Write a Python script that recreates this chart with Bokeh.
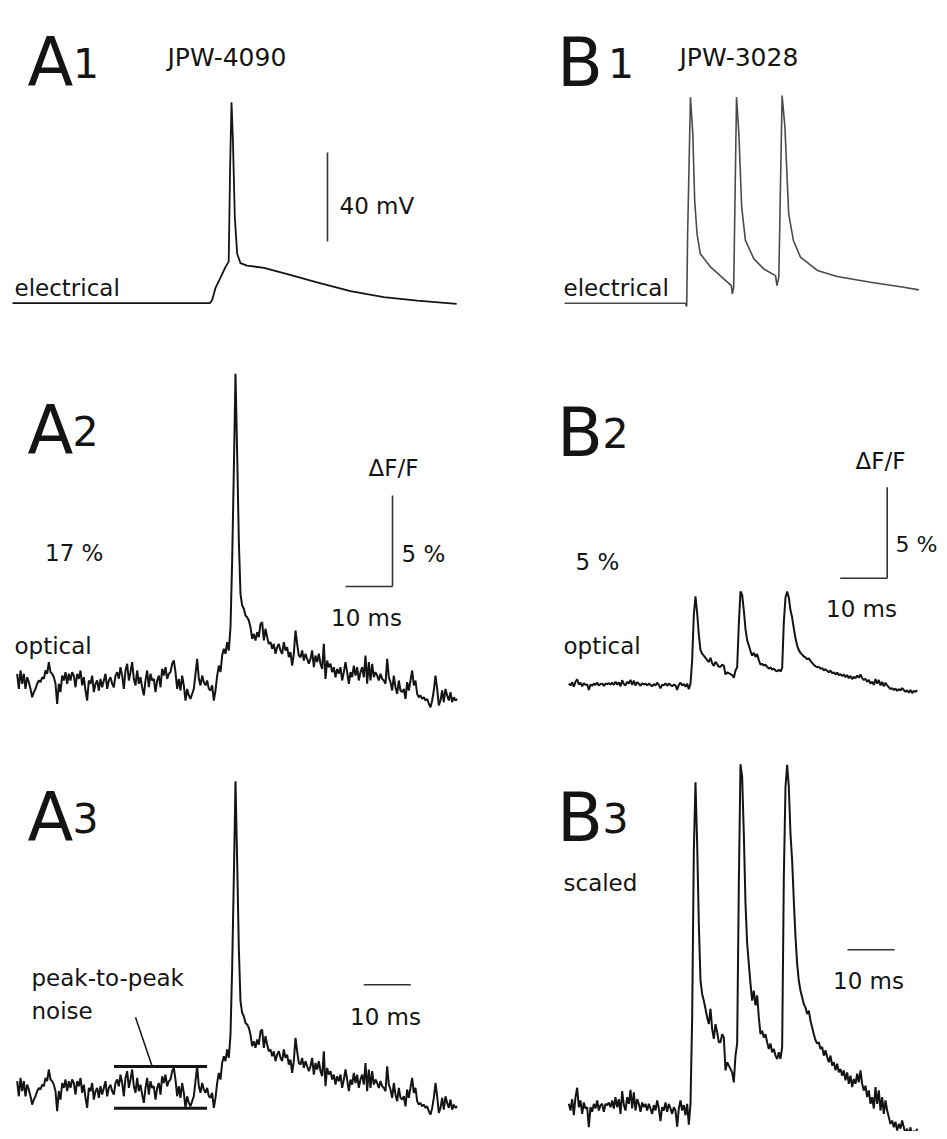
import numpy as np
from bokeh.plotting import figure
from bokeh.models import Label, Range1d
from bokeh.layouts import column, row
from bokeh.embed import file_html
from bokeh.resources import INLINE

# ---------------- data ----------------
# A1: electrical recording, JPW-4090 (time in ms, membrane potential in mV)
A1_T = [0.0, 42.0, 42.5, 43.2, 44.3, 45.3, 46.0, 46.3, 46.6, 46.9, 47.3, 47.8,
        48.5, 49.9, 53.5, 57.7, 64.8, 71.9, 79.0, 86.1, 94.5]
A1_V = [-70.0, -70.0, -68.4, -63.1, -58.3, -53.8, -51.3, -8.9, 20.3, 3.1, -31.3,
        -47.8, -52.0, -53.1, -54.1, -56.5, -60.6, -64.6, -67.3, -68.8, -70.3]

# B1: electrical recording, JPW-3028 (time in ms, mV)
B1_T = [0.0, 25.7, 26.0, 26.2, 26.8, 27.3, 27.7, 28.2, 28.9, 31.1, 33.9, 35.5,
        35.7, 36.0, 36.6, 37.1, 37.7, 38.5, 40.3, 42.4, 44.9, 45.2, 45.6, 46.3,
        46.9, 47.7, 48.7, 50.2, 53.8, 58.0, 65.1, 72.2, 75.4]
B1_V = [-70.0, -70.0, -71.5, -38.8, 22.6, 6.1, -23.9, -38.8, -47.8, -53.8, -59.1,
        -62.1, -65.8, -62.8, 22.6, 6.1, -26.9, -41.8, -50.1, -54.6, -57.6, -62.1,
        -58.3, 23.3, 9.1, -29.9, -41.8, -49.3, -55.3, -58.0, -60.6, -62.8, -64.0]

# optical recordings, sampled every OPT_DT ms (dF/F in %)
OPT_DT = 0.3546
A_OPT_T0 = 0.993
A_OPT = [
    0.37, -0.46, 0.55, -0.18, 0.37, -0.46, 0.18, -0.09, -0.46, -0.92,
    -0.64, -0.46, -0.18, 0.00, -0.09, 0.18, 0.09, 0.55, 0.37, 1.01,
    0.46, 0.37, 0.18, -0.18, -1.28, -0.18, -0.64, 0.27, 0.00, 0.46,
    -0.18, 0.37, 0.00, 0.46, 0.27, -0.37, 0.37, 0.09, 0.55, -0.27,
    0.18, -0.55, -1.10, 0.00, -0.18, 0.27, -0.64, -0.18, 0.00, -0.55,
    0.09, -0.37, 0.00, 0.37, -0.46, 0.00, 0.18, -0.18, -0.37, 0.27,
    0.46, 0.09, 0.73, 0.27, -0.46, 0.55, 0.92, 0.00, 0.46, 1.01,
    0.09, -0.27, 0.55, -0.18, 0.18, -0.37, -0.82, 0.00, 0.55, -0.37,
    0.37, 0.00, 0.09, -0.64, 0.00, 0.27, -0.37, 0.64, 0.27, 0.73,
    0.09, 0.37,
    0.46, 0.92, 1.10, 0.46, -0.46, 0.09, -0.55, 0.27, -0.27, -1.10,
    -0.46, -0.82, -1.01, -0.73, -0.46, 0.37, 1.19, 0.09, -0.27, 0.27,
    -0.09, -0.27, 0.00, -0.46, -0.55, -0.27, -1.10, -0.55, 0.27, 0.82,
    0.46, 1.37, 1.74, 1.47, 2.11, 1.65, 2.93, 6.59, 11.54, 16.85,
    12.45, 7.69, 4.76, 4.12, 3.94, 3.57, 3.48, 3.30, 2.93, 2.29,
    2.56, 2.20, 2.66, 2.38, 3.11, 3.21, 2.20, 2.84, 2.38, 2.01,
    2.11, 1.74, 2.01, 1.47, 1.83, 2.01, 1.65, 1.47, 2.11, 1.65,
    1.83, 1.28, 1.56, 0.82, 1.47, 2.75, 2.01, 1.37, 1.28, 1.65,
    1.10, 1.47, 1.19, 0.92,
    1.19, 1.65, 0.73, 1.37, 1.01, 1.47, 0.92, 0.64, 2.01, 0.09,
    1.10, 0.73, 0.92, 0.46, 0.73, 0.18, 0.64, 0.37, 0.73, 0.00,
    0.46, 1.01, 0.46, -0.18, 0.46, 0.18, 0.82, 0.27, 0.73, 0.00,
    0.46, 0.73, 0.18, 1.37, -0.18, 1.01, 0.00, 0.92, 0.18, 0.46,
    0.27, 0.00, 0.37, 0.09, 0.00, -0.18, 1.19, 0.18, -0.09, -0.55,
    0.27, -0.37, -0.73, 0.00, -0.55, -0.64, -0.46, -1.01, -0.09, -0.55,
    0.00, 0.55, -0.27, 0.00, -0.73, -0.92, -0.82, -1.01, -0.92, -1.10,
    -1.01, -1.28, -1.47, -1.10, -0.55, 0.27, -0.46, -1.37, -1.10, -0.55,
    -1.19, -0.46, -0.82, -1.10, -0.64, -1.19, -0.92, -1.10, -1.01,
]

B_OPT_T0 = 0.922
B_OPT = [
    0.01, -0.09, 0.08, -0.16, 0.11, 0.25, -0.04, 0.06, -0.14, 0.03,
    -0.06, -0.04, -0.34, -0.04, -0.11, 0.01, -0.06, 0.06, -0.09, -0.01,
    0.01, -0.11, 0.01, -0.01, 0.03, -0.04, 0.06, -0.06, 0.11, -0.04,
    0.08, -0.14, 0.20, -0.01, -0.09, 0.11, 0.01, 0.22, -0.06, 0.18,
    -0.09, 0.08, 0.01, -0.11, 0.03, -0.04, 0.01, -0.09, 0.01, -0.06,
    -0.14, -0.01, -0.09, 0.06, -0.06, -0.25, -0.04, -0.09, 0.03, -0.11,
    0.01, -0.06, -0.14, -0.04, -0.09, -0.33, -0.06, 0.06, -0.09, -0.01,
    -0.16, 0.01, -0.30, 0.01,
    1.30, 3.79, 4.81, 3.89, 2.70, 1.85, 1.65, 1.55, 1.43, 1.30,
    1.20, 1.43, 1.13, 0.98, 1.20, 1.08, 0.93, 0.93, 1.05, 1.00,
    0.51, 0.63, 0.58, 0.53, 0.48, 0.33, 0.73, 0.91, 3.29, 5.08,
    4.89, 4.04, 3.00, 2.40, 2.10, 1.80, 1.55, 1.70, 1.48, 1.63,
    1.30, 1.05, 1.10, 1.00, 1.05, 0.93, 0.83, 0.91, 0.78, 0.83,
    0.73, 0.68, 0.78, 0.68, 0.86, 3.39, 4.74, 5.07, 4.74, 4.04,
    3.64, 3.04, 2.50, 2.10, 1.85, 1.70, 1.60, 1.50, 1.45, 1.35,
    1.40, 1.25, 1.15, 1.05, 0.96, 0.91, 0.93, 0.83, 0.86, 0.73,
    0.81, 0.71, 0.63, 0.73, 0.58, 0.63, 0.51, 0.61, 0.48, 0.53,
    0.43, 0.51, 0.36, 0.48, 0.31, 0.43, 0.26, 0.38, 0.31, 0.46,
    0.33, 0.51, 0.31, 0.21, 0.28, 0.11, 0.21, 0.01, 0.11, -0.06,
    0.26, 0.01, 0.21, -0.09, 0.11, -0.14, 0.06, -0.09, -0.19, -0.29,
    -0.24, -0.34, -0.26, -0.39, -0.29, -0.36, -0.24, -0.34, -0.44, -0.36,
    -0.49, -0.34, -0.51, -0.39, -0.44, -0.36,
]
B3_SCALE = 3.68          # B3 = B2 optical trace scaled up

# peak-to-peak noise window in A3 (ms, %)
NOISE_T = [21.6, 41.4]
NOISE_HI = 1.18
NOISE_LO = -1.12

SCALE_MV = 40
SCALE_PCT = 5
SCALE_MS = 10

# ---------------- layout ----------------
PXMS = 4.7
# left, top, width, height (layout px), x of t=0, y of value 0, px per unit
GEOM = {
    "A1": (0, 0, 470, 345, 12.0, 146.95, 2.225),
    "B1": (470, 0, 469, 345, 564.0, 146.95, 2.225),
    "A2": (0, 345, 470, 395, 12.0, 680.0, 18.2),
    "B2": (470, 345, 469, 395, 564.0, 683.3, 18.2),
    "A3": (0, 740, 470, 391, 12.0, 1087.4, 18.2),
    "B3": (470, 740, 469, 391, 564.0, 1104.0, 18.2 * B3_SCALE),
}
FONT = "DejaVu Sans"
INK = "#141414"


def at(key, px, py):
    L, T, W, H, x0, y0, k = GEOM[key]
    return (px - x0) / PXMS, (y0 - py) / k


def panel(key):
    L, T, W, H, x0, y0, k = GEOM[key]
    p = figure(width=W, height=H,
               x_range=Range1d((L - x0) / PXMS, (L + W - x0) / PXMS),
               y_range=Range1d((y0 - (T + H)) / k, (y0 - T) / k),
               x_axis_type=None, y_axis_type=None,
               output_backend="svg", toolbar_location=None, min_border=0)
    p.outline_line_color = None
    p.background_fill_color = "white"
    p.border_fill_color = "white"
    return p


def label(p, key, text, px, py, size):
    x, y = at(key, px, py)
    p.add_layout(Label(x=x, y=y, text=text, text_font=FONT,
                       text_font_size=f"{size}px", text_color=INK,
                       text_baseline="alphabetic", text_align="left"))


def tag(p, key, letter, digit, lx, dx, base):
    label(p, key, letter, lx, base, 67)
    label(p, key, digit, dx, base, 41)


def vbar(p, key, px, py_bottom, length):
    t, v = at(key, px, py_bottom)
    p.line([t, t], [v, v + length], line_color="#333333", line_width=1.6)


def hbar(p, key, px_right, py, length):
    t, v = at(key, px_right, py)
    p.line([t - length, t], [v, v], line_color="#333333", line_width=1.6)


a_t = A_OPT_T0 + OPT_DT * np.arange(len(A_OPT))
b_t = B_OPT_T0 + OPT_DT * np.arange(len(B_OPT))

# A1
pA1 = panel("A1")
pA1.line(A1_T, A1_V, line_color=INK, line_width=1.8)
tag(pA1, "A1", "A", "1", 27, 72.5, 62)
label(pA1, "A1", "JPW-4090", 167, 57, 25)
vbar(pA1, "A1", 327, 241, SCALE_MV)
label(pA1, "A1", "40 mV", 339, 205, 23)
label(pA1, "A1", "electrical", 14, 287, 23)

# B1
pB1 = panel("B1")
pB1.line(B1_T, B1_V, line_color="#4a4a4a", line_width=1.6)
tag(pB1, "B1", "B", "1", 556.5, 607.5, 62)
label(pB1, "B1", "JPW-3028", 679, 57, 25)
label(pB1, "B1", "electrical", 563, 287, 23)

# A2
pA2 = panel("A2")
pA2.line(a_t, A_OPT, line_color=INK, line_width=2.0)
tag(pA2, "A2", "A", "2", 27, 72, 430)
label(pA2, "A2", "\u0394F/F", 368, 467, 23)
vbar(pA2, "A2", 392, 586, SCALE_PCT)
hbar(pA2, "A2", 392, 586, SCALE_MS)
label(pA2, "A2", "5 %", 401, 553, 23)
label(pA2, "A2", "17 %", 44.5, 552, 23)
label(pA2, "A2", "10 ms", 330.5, 617, 23)
label(pA2, "A2", "optical", 14, 645.5, 23)

# B2
pB2 = panel("B2")
pB2.line(b_t, B_OPT, line_color=INK, line_width=2.0)
tag(pB2, "B2", "B", "2", 556.5, 602, 432)
label(pB2, "B2", "\u0394F/F", 855, 460, 23)
vbar(pB2, "B2", 886.7, 577.7, SCALE_PCT)
hbar(pB2, "B2", 886.7, 577.7, SCALE_MS)
label(pB2, "B2", "5 %", 895, 544, 22)
label(pB2, "B2", "5 %", 575, 561, 23)
label(pB2, "B2", "10 ms", 825.5, 608, 23)
label(pB2, "B2", "optical", 563, 645, 23)

# A3
pA3 = panel("A3")
pA3.line(a_t, A_OPT, line_color=INK, line_width=2.0)
tag(pA3, "A3", "A", "3", 27, 72, 817)
pA3.line(NOISE_T, [NOISE_HI, NOISE_HI], line_color=INK, line_width=3)
pA3.line(NOISE_T, [NOISE_LO, NOISE_LO], line_color=INK, line_width=3)
l0 = at("A3", 135, 1016.7)
l1 = at("A3", 151.7, 1066)
pA3.line([l0[0], l1[0]], [l0[1], l1[1]], line_color=INK, line_width=1.5)
label(pA3, "A3", "peak-to-peak", 31, 977, 23)
label(pA3, "A3", "noise", 31, 1010, 23)
hbar(pA3, "A3", 410.3, 984.3, SCALE_MS)
label(pA3, "A3", "10 ms", 349.5, 1016, 23)

# B3
pB3 = panel("B3")
pB3.line(b_t, B_OPT, line_color=INK, line_width=2.0)
tag(pB3, "B3", "B", "3", 556.5, 602, 817)
label(pB3, "B3", "scaled", 563, 882.7, 23)
hbar(pB3, "B3", 894, 949.3, SCALE_MS)
label(pB3, "B3", "10 ms", 832.5, 980, 23)

layout = column(row(pA1, pB1), row(pA2, pB2), row(pA3, pB3))

with open("out.html", "w") as f:
    f.write(file_html(layout, INLINE, title="Voltage-sensitive dye recordings"))
